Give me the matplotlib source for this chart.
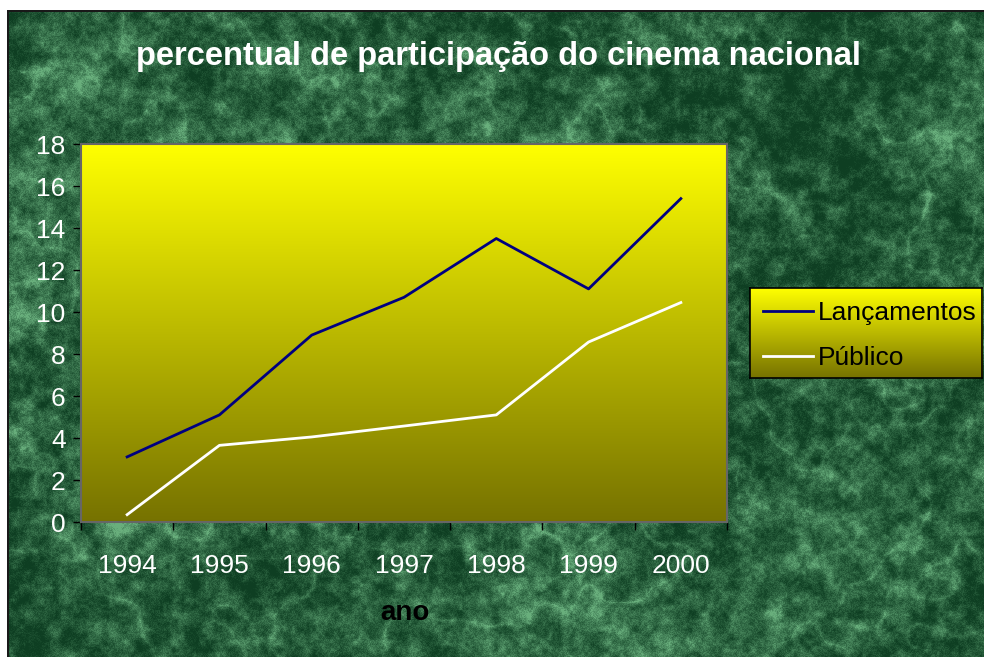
import numpy as np
import matplotlib
matplotlib.use("Agg")
import matplotlib.pyplot as plt

plt.rcParams['font.family'] = ['Liberation Sans', 'DejaVu Sans']

# ---- data ----
years = ["1994", "1995", "1996", "1997", "1998", "1999", "2000"]
lancamentos = [3.1, 5.1, 8.9, 10.7, 13.5, 11.1, 15.4]
publico = [0.35, 3.65, 4.05, 4.57, 5.1, 8.57, 10.45]
y_ticks = [0, 2, 4, 6, 8, 10, 12, 14, 16, 18]
title = "percentual de participação do cinema nacional"
x_label = "ano"
series_names = ["Lançamentos", "Público"]

W, H = 984, 657
fig = plt.figure(figsize=(W / 100, H / 100), dpi=100)

# ---- green marble background (decorative texture) ----
rng = np.random.default_rng(11)

def upsample(small, h, w):
    sh, sw = small.shape
    yi = np.linspace(0, sh - 1, h)
    xi = np.linspace(0, sw - 1, w)
    y0 = np.floor(yi).astype(int); x0 = np.floor(xi).astype(int)
    y1 = np.minimum(y0 + 1, sh - 1); x1 = np.minimum(x0 + 1, sw - 1)
    fy = (yi - y0)[:, None]; fx = (xi - x0)[None, :]
    fy = fy * fy * (3 - 2 * fy); fx = fx * fx * (3 - 2 * fx)
    a = small[y0][:, x0]; b = small[y0][:, x1]
    c = small[y1][:, x0]; d = small[y1][:, x1]
    return (a * (1 - fx) + b * fx) * (1 - fy) + (c * (1 - fx) + d * fx) * fy

def fractal(h, w, scales, weights):
    out = np.zeros((h, w))
    for s, wt in zip(scales, weights):
        small = rng.random((h // s + 2, w // s + 2))
        out += wt * upsample(small, h, w)
    return out / sum(weights)

big = fractal(H, W, [150, 75], [1, 0.6])
mid = fractal(H, W, [14, 7, 3], [1, 0.8, 0.6])
n2 = fractal(H, W, [90, 45, 22], [1, 0.7, 0.5])
veins = np.exp(-np.abs(n2 - 0.5) * 30)
grain = rng.random((H, W))
t = 0.35 * big + 0.5 * mid + 0.15 * veins + 0.12 * grain
t = np.clip((t - np.percentile(t, 1)) / (np.percentile(t, 99.7) - np.percentile(t, 1)), 0, 1) ** 1.4
dark = np.array([14, 62, 34]) / 255
light = np.array([105, 175, 125]) / 255
tex = dark[None, None, :] + t[..., None] * (light - dark)[None, None, :]
tex[:10, :, :] = 1.0
tex[:, :7, :] = 1.0
tex[10:12, 7:, :] = 0.1
tex[10:, 7:9, :] = 0.1
ax_bg = fig.add_axes([0, 0, 1, 1])
ax_bg.imshow(tex, aspect='auto', interpolation='nearest')
ax_bg.axis('off')

# ---- main plot ----
ax = fig.add_axes([81 / W, 1 - 522 / H, (727 - 81) / W, (522 - 144) / H])
x = np.arange(len(years))
ax.set_xlim(-0.5, len(years) - 0.5)
ax.set_ylim(y_ticks[0], y_ticks[-1])

top_c = np.array([255, 255, 0]) / 255
bot_c = np.array([118, 114, 0]) / 255
g = np.linspace(0, 1, 256)[:, None]
grad = top_c[None, :] * (1 - g) + bot_c[None, :] * g
grad = np.repeat(grad[:, None, :], 2, axis=1)
ax.imshow(grad, extent=[-0.5, len(years) - 0.5, y_ticks[0], y_ticks[-1]],
          aspect='auto', zorder=0, interpolation='bilinear')

l1, = ax.plot(x, lancamentos, color='#000080', lw=2.0, zorder=3)
l2, = ax.plot(x, publico, color='white', lw=2.0, zorder=3)

ax.set_yticks(y_ticks)
ax.set_yticklabels([str(v) for v in y_ticks], color='white', fontsize=19)
ax.tick_params(axis='y', length=6, width=1, color='black', pad=5, direction='out')

ax.set_xticks(np.arange(-0.5, len(years), 1.0))
ax.set_xticklabels([])
ax.tick_params(axis='x', which='major', length=6, width=1, color='black', direction='out')
ax.set_xticks(x, minor=True)
ax.set_xticklabels(years, minor=True, color='white', fontsize=19)
ax.tick_params(axis='x', which='minor', length=0, pad=23)

for s in ax.spines.values():
    s.set_color('#666666')
    s.set_linewidth(1.5)

fig.text(405 / W, 1 - 613 / H, x_label, ha='center', va='center',
         fontsize=20, fontweight='bold', color='black')
fig.text(498 / W, 1 - 56 / H, title, ha='center', va='center',
         fontsize=23.5, fontweight='bold', color='white')

# ---- legend box with gradient ----
axl = fig.add_axes([750 / W, 1 - 378 / H, (982 - 750) / W, (378 - 288) / H])
axl.imshow(grad, extent=[0, 1, 0, 1], aspect='auto', interpolation='bilinear')
axl.set_xlim(0, 1); axl.set_ylim(0, 1)
axl.set_xticks([]); axl.set_yticks([])
for s in axl.spines.values():
    s.set_color('black')
    s.set_linewidth(1.2)
axl.legend([l1, l2], series_names, loc='center left', frameon=False,
           fontsize=19, handlelength=1.9, handletextpad=0.2,
           labelspacing=0.8, borderaxespad=0.1, borderpad=0.2,
           bbox_to_anchor=(0.02, 0.47))

fig.savefig("out.png", dpi=100)
